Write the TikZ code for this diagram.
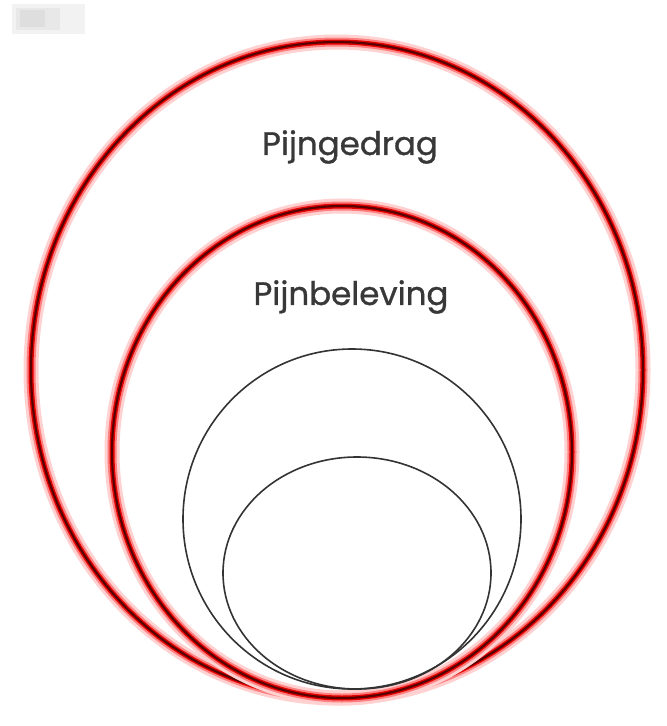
\documentclass[tikz,border=0pt]{standalone}
\usepackage{fontspec}
\setmainfont{Poppins}[FakeBold=0.9]
\begin{document}
\begin{tikzpicture}[x=1pt,y=-1pt,
  glowa/.style={draw=red!18,line width=15pt},
  glowb/.style={draw=red!50,line width=9pt},
  redmid/.style={draw=red!90!black,line width=5pt},
  core/.style={draw=black!65!red,line width=2.2pt},
  thin/.style={draw=black!80,line width=1.6pt},
  lbl/.style={font=\fontsize{32.5}{35}\selectfont,text=black!78}]
\useasboundingbox[fill=white] (0,0) rectangle (667,726);
\fill[black!5] (12,4) rectangle (85,34);
\fill[black!9] (16,8) rectangle (60,30);
\fill[black!13] (20,10) rectangle (45,27);
% outer ellipse
\foreach \s in {glowa,glowb,redmid,core}
  \draw[\s] (337,370) ellipse [x radius=306, y radius=328];
% middle ellipse
\foreach \s in {glowa,glowb,redmid,core}
  \draw[\s] (342,452) ellipse [x radius=230, y radius=246];
% inner circles
\draw[thin] (352,519) ellipse [x radius=169, y radius=170];
\draw[thin] (357,573) ellipse [x radius=134, y radius=116];
\node[lbl] (ged) at (350,147) {Pijngedrag};
\node[lbl] (bel) at (351,297) {Pijnbeleving};
\end{tikzpicture}
\end{document}
